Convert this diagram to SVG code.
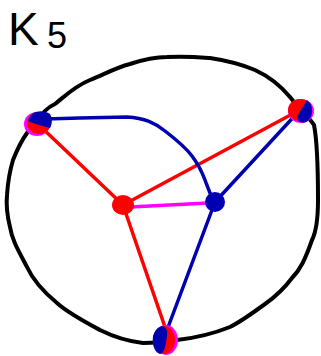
<svg xmlns="http://www.w3.org/2000/svg" width="321" height="356" viewBox="0 0 321 356">
<style>
.k{fill:none;stroke:#000;stroke-width:4;stroke-linecap:round;stroke-linejoin:round}
.r{fill:none;stroke:#f00;stroke-width:3.5;stroke-linecap:round}
.b{fill:none;stroke:#0000b0;stroke-width:3.5;stroke-linecap:round}
.m{fill:none;stroke:#f0f;stroke-width:3.5;stroke-linecap:round}
.t{font-family:"Liberation Sans",sans-serif;fill:#000}
</style>
<rect width="321" height="356" fill="#fff"/>
<g id="title"><text class="t" x="8" y="45" font-size="46">K</text><text class="t" x="47" y="48" font-size="36">5</text></g>
<g id="outer"><path class="k" d="M37,123 C42,112 48,107 55,104 C65,96 75,86 90,80 C105,74 115,68 130,64 C145,59 155,57 167,57 C185,56 197,57 210,58 C230,61 243,65 255,70 C268,76 280,85 290,97 C300,110 310,118 314,125 C318,145 318,175 318,200 C318,220 316,232 312,240 C305,260 300,270 292,278 C283,290 275,297 265,304 C250,315 240,322 230,327 C215,333 195,338 177,340 C165,342 155,343 143,343 C125,341 112,336 100,330 C85,322 68,313 57,303 C45,293 33,280 27,267 C18,250 12,240 10,227 C7,215 6,205 7,195 C8,180 10,170 13,160 C17,150 22,140 27,133 C30,128 34,125 37,123"/></g>
<g id="edges">
<path class="r" d="M40,126 L123,205"/>
<path class="r" d="M123,205 L296,112"/>
<path class="r" d="M123,205 L166,330"/>
<path class="b" d="M45,119 L80,118 L127,117 C145,118 155,123 165,131 C178,141 186,148 192,156 C198,164 202,172 205,180 C208,188 210,194 214,202"/>
<path class="b" d="M300,110 L215,202"/>
<path class="b" d="M215,202 L167,330"/>
<path class="m" d="M130,207 L208,203"/>
</g>
<g id="nA"><ellipse cx="37" cy="124" rx="13" ry="12" fill="#f0f"/><ellipse cx="39" cy="123" rx="12" ry="11" fill="#f00"/><path d="M28,121 C30,111 42,109 50,114 C53,119 52,125 50,128 C43,126 34,124 28,121Z" fill="#0000b0"/></g>
<g id="nB"><ellipse cx="301" cy="111" rx="13" ry="12" fill="#f0f"/><ellipse cx="300" cy="110" rx="12" ry="11" fill="#f00"/><path d="M307,100 C314,105 314,118 306,122 C299,124 296,120 298,115 C301,110 304,105 307,100Z" fill="#0000b0"/></g>
<g id="nC"><ellipse cx="123" cy="205" rx="11" ry="10" fill="#f00"/></g>
<g id="nD"><ellipse cx="215" cy="202" rx="10" ry="10" fill="#0000b0"/></g>
<g id="nE"><ellipse cx="166" cy="340" rx="12" ry="15" fill="#f0f"/><ellipse cx="164" cy="340" rx="11" ry="14" fill="#f00"/><path d="M162,326 C168,327 168,333 166,342 C165,348 164,353 160,354 C154,352 152,344 153,336 C155,330 158,327 162,326Z" fill="#0000b0"/></g>
</svg>
